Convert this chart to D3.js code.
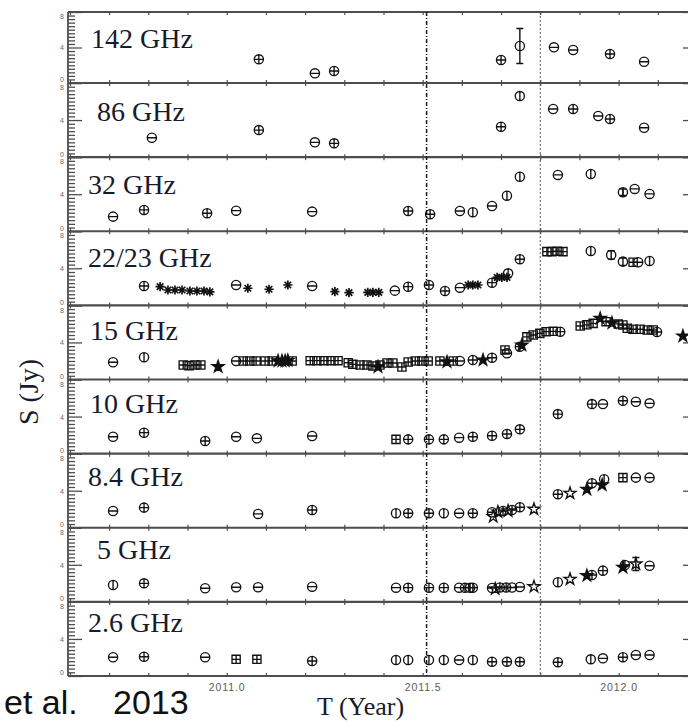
<!DOCTYPE html>
<html>
<head>
<meta charset="utf-8">
<script src="https://cdn.jsdelivr.net/npm/d3@7"></script>
<style>
  html, body { margin: 0; padding: 0; background: #fff; overflow: hidden; }
  svg { display: block; }
</style>
</head>
<body>
<svg id="chart" width="688" height="722"></svg>
<script>
// ---- Data: flux density S (Jy) against epoch T (year), one list per frequency ----
// Each point: [year, flux, marker, error]
//   marker: 'o' circle+cross, 'm' circle+bar, 'v' circle+stem, 'c' plain circle,
//           's' boxed cross, 'p' open star, 'P' filled star, 'x' asterisk
const bands = ["142 GHz", "86 GHz", "32 GHz", "22/23 GHz", "15 GHz", "10 GHz", "8.4 GHz", "5 GHz", "2.6 GHz"];

const f142 = [
  [2011.082, 2.67, 'o'], [2011.225, 1.09, 'm'], [2011.274, 1.35, 'o'],
  [2011.700, 2.59, 'o'], [2011.748, 4.17, 'c', 1.97], [2011.835, 4.02, 'm'],
  [2011.884, 3.72, 'm'], [2011.978, 3.27, 'o'], [2012.065, 2.40, 'm']
];

const f86 = [
  [2010.809, 2.09, 'm'], [2011.082, 2.92, 'o'], [2011.225, 1.60, 'm'], [2011.274, 1.49, 'o'],
  [2011.700, 3.28, 'o'], [2011.748, 6.59, 'v'], [2011.833, 5.19, 'm'], [2011.884, 5.19, 'o'],
  [2011.948, 4.44, 'm'], [2011.978, 4.11, 'o'], [2012.065, 3.17, 'm']
];

const f32 = [
  [2010.710, 1.58, 'm'], [2010.789, 2.30, 'o'], [2010.950, 1.94, 'o'], [2011.024, 2.22, 'm'],
  [2011.218, 2.12, 'm'], [2011.463, 2.19, 'o'], [2011.519, 1.83, 'o'], [2011.595, 2.19, 'm'],
  [2011.628, 2.05, 'v'], [2011.677, 2.73, 'm'], [2011.715, 3.84, 'v'], [2011.748, 5.89, 'v'],
  [2011.845, 6.08, 'm'], [2011.929, 6.18, 'v'], [2012.011, 4.21, 'v', 0.35], [2012.041, 4.57, 'm'],
  [2012.079, 4.03, 'm']
];

const f22 = [
  [2010.789, 2.09, 'o'], [2010.830, 2.02, 'x'], [2010.850, 1.66, 'x'], [2010.868, 1.66, 'x'],
  [2010.886, 1.66, 'x'], [2010.906, 1.55, 'x'], [2010.924, 1.55, 'x'], [2010.942, 1.55, 'x'],
  [2010.957, 1.45, 'x'], [2011.024, 2.20, 'm'], [2011.054, 1.85, 'x'], [2011.108, 1.74, 'x'],
  [2011.156, 2.20, 'x'], [2011.218, 2.09, 'm'], [2011.276, 1.48, 'x'], [2011.312, 1.38, 'x'],
  [2011.360, 1.41, 'x'], [2011.373, 1.41, 'x'], [2011.388, 1.41, 'x'], [2011.429, 1.59, 'm'],
  [2011.463, 2.02, 'o'], [2011.516, 2.20, 'o'], [2011.557, 1.55, 'o'], [2011.595, 1.91, 'm'],
  [2011.616, 2.20, 'x'], [2011.628, 2.20, 'x'], [2011.641, 2.20, 'x'], [2011.677, 2.45, 'o'],
  [2011.690, 3.03, 'x'], [2011.702, 3.03, 'x'], [2011.715, 3.03, 'x'], [2011.718, 3.46, 'v'],
  [2011.748, 4.98, 'o'], [2011.817, 5.80, 's'], [2011.830, 5.80, 's'], [2011.843, 5.85, 's'],
  [2011.858, 5.80, 's'], [2011.929, 5.87, 'v'], [2011.981, 5.44, 'c', 0.45], [2012.011, 4.72, 'c', 0.40],
  [2012.037, 4.65, 's'], [2012.050, 4.65, 'm'], [2012.079, 4.79, 'v']
];

const f15 = [
  [2010.710, 1.86, 'm'], [2010.789, 2.40, 'v'],
  [2010.889, 1.56, 's'], [2010.904, 1.50, 's'], [2010.919, 1.56, 's'], [2010.934, 1.56, 's'],
  [2010.978, 1.38, 'P'],
  [2011.024, 2.00, 'm'], [2011.042, 2.00, 's'], [2011.059, 2.00, 's'], [2011.075, 2.00, 's'],
  [2011.098, 2.00, 's'], [2011.116, 2.00, 's'], [2011.131, 2.00, 'P'], [2011.141, 2.00, 'P'],
  [2011.149, 2.00, 'P'], [2011.156, 2.05, 'P'], [2011.167, 2.00, 's'],
  [2011.213, 2.03, 's'], [2011.230, 2.03, 's'], [2011.248, 2.03, 's'], [2011.266, 2.03, 's'],
  [2011.284, 2.03, 's'],
  [2011.310, 1.81, 's'], [2011.322, 1.64, 's'], [2011.340, 1.56, 's'], [2011.358, 1.56, 's'],
  [2011.373, 1.46, 's'], [2011.386, 1.35, 'P'], [2011.391, 1.56, 's'], [2011.409, 1.78, 's'],
  [2011.424, 1.78, 's'], [2011.447, 1.35, 's'], [2011.463, 1.89, 's'], [2011.481, 2.00, 's'],
  [2011.498, 2.00, 's'], [2011.514, 2.00, 's'],
  [2011.544, 2.00, 's'], [2011.562, 1.90, 'P'], [2011.578, 2.00, 's'], [2011.595, 2.00, 'm'],
  [2011.628, 2.10, 'o'], [2011.654, 2.10, 'P'], [2011.677, 2.35, 'o'],
  [2011.710, 3.18, 's'], [2011.715, 2.83, 'm'], [2011.748, 3.54, 'o'], [2011.753, 3.70, 'P'],
  [2011.766, 4.60, 's'], [2011.782, 4.80, 's'], [2011.799, 4.98, 's'], [2011.815, 5.16, 's'],
  [2011.833, 5.20, 's'], [2011.851, 5.16, 'o'],
  [2011.902, 5.77, 's'], [2011.919, 5.90, 's'], [2011.935, 6.06, 's'], [2011.953, 6.60, 'P'],
  [2011.968, 6.24, 's'], [2011.983, 6.10, 'P'], [2011.999, 6.00, 's'], [2012.011, 5.88, 's'],
  [2012.022, 5.53, 's'], [2012.037, 5.42, 's'], [2012.055, 5.42, 's'], [2012.073, 5.34, 's'],
  [2012.088, 5.34, 's'], [2012.098, 5.13, 'o'],
  [2012.164, 4.69, 'P']
];

const f10 = [
  [2010.710, 1.82, 'm'], [2010.789, 2.26, 'o'], [2010.945, 1.36, 'o'], [2011.024, 1.82, 'm'],
  [2011.077, 1.65, 'm'], [2011.218, 1.90, 'm'],
  [2011.432, 1.54, 's'], [2011.463, 1.54, 'o'], [2011.516, 1.54, 'o'], [2011.554, 1.54, 'o'],
  [2011.593, 1.72, 'm'], [2011.628, 1.82, 'o'], [2011.677, 1.93, 'o'], [2011.715, 2.12, 'o'],
  [2011.748, 2.62, 'o'], [2011.845, 4.27, 'o'], [2011.932, 5.35, 'o'], [2011.960, 5.35, 'm'],
  [2012.011, 5.71, 'o'], [2012.044, 5.60, 'm'], [2012.079, 5.43, 'm']
];

const f8 = [
  [2010.710, 1.81, 'm'], [2010.789, 2.17, 'o'], [2011.080, 1.49, 'm'], [2011.218, 1.92, 'o'],
  [2011.432, 1.56, 'v'], [2011.463, 1.56, 'o'], [2011.516, 1.56, 'o'], [2011.554, 1.56, 'v'],
  [2011.593, 1.56, 'm'], [2011.628, 1.56, 'o'],
  [2011.677, 1.67, 'm'], [2011.680, 1.20, 'p'], [2011.692, 1.70, 'p'], [2011.705, 1.81, 'o'],
  [2011.718, 1.81, 'p'], [2011.728, 1.92, 'o'], [2011.748, 2.21, 'o'], [2011.784, 2.00, 'p'],
  [2011.845, 3.62, 'o'], [2011.876, 3.72, 'p'], [2011.919, 4.15, 'P'], [2011.932, 4.80, 'o'],
  [2011.958, 4.62, 'P'], [2011.963, 5.23, 'v'], [2012.011, 5.41, 's'], [2012.044, 5.41, 'm'],
  [2012.079, 5.41, 'm']
];

const f5 = [
  [2010.710, 1.82, 'v'], [2010.789, 2.00, 'o'], [2010.945, 1.47, 'm'], [2011.024, 1.58, 'm'],
  [2011.080, 1.58, 'm'], [2011.218, 1.64, 'm'],
  [2011.432, 1.53, 'm'], [2011.463, 1.53, 'o'], [2011.516, 1.53, 'o'], [2011.554, 1.53, 'o'],
  [2011.593, 1.53, 'm'], [2011.608, 1.53, 'o'], [2011.621, 1.53, 'o'], [2011.628, 1.53, 'o'],
  [2011.677, 1.50, 'm'], [2011.685, 1.40, 'p'], [2011.697, 1.55, 'o'], [2011.713, 1.55, 'o'],
  [2011.728, 1.55, 'm'], [2011.748, 1.60, 'm'], [2011.784, 1.64, 'p'],
  [2011.845, 2.12, 'v'], [2011.876, 2.44, 'p'], [2011.919, 2.83, 'P'], [2011.932, 2.90, 'o'],
  [2011.960, 3.37, 'o'], [2012.011, 3.73, 'P'], [2012.016, 3.98, 'o'], [2012.044, 4.09, 'p', 0.7],
  [2012.079, 3.90, 'm']
];

const f2 = [
  [2010.710, 2.02, 'm'], [2010.789, 2.08, 'o'], [2010.945, 2.02, 'm'], [2011.024, 1.80, 's'],
  [2011.077, 1.80, 's'], [2011.218, 1.62, 'o'],
  [2011.432, 1.73, 'v'], [2011.463, 1.73, 'v'], [2011.516, 1.73, 'v'], [2011.554, 1.73, 'v'],
  [2011.593, 1.73, 'm'], [2011.628, 1.73, 'v'],
  [2011.677, 1.54, 'o'], [2011.715, 1.54, 'o'], [2011.748, 1.54, 'o'], [2011.845, 1.48, 'o'],
  [2011.929, 1.80, 'v'], [2011.960, 1.91, 'm'], [2012.011, 2.02, 'o'], [2012.044, 2.27, 'm'],
  [2012.079, 2.27, 'm']
];

const series = [f142, f86, f32, f22, f15, f10, f8, f5, f2];

// Axis ticks and labels
const yearDomain = [2010.595, 2012.2];
const yearTicks = [2010.6, 2010.7, 2010.8, 2010.9, 2011.0, 2011.1, 2011.2, 2011.3, 2011.4,
                   2011.5, 2011.6, 2011.7, 2011.8, 2011.9, 2012.0, 2012.1, 2012.2];
const yearLabels = [2011.0, 2011.5, 2012.0];
const fluxDomain = [0, 8];
const fluxMajor = [0, 4, 8];
const fluxMinor = [0.4, 0.8, 1.2, 1.6, 2.0, 2.4, 2.8, 3.2, 3.6, 4.4, 4.8, 5.2, 5.6, 6.0, 6.4, 6.8, 7.2, 7.6];
const epochLines = [2011.51, 2011.80];

// ---- Layout ----
const svg = d3.select("#chart");
const left = 68, right = 697;
const plotTop = 12, firstBottom = 83, plotBottom = 676;
const frameColor = "#4d4d4d";

const x = d3.scaleLinear().domain(yearDomain).range([left, right]);
const bottomOf = d3.scaleLinear().domain([0, bands.length - 1]).range([firstBottom, plotBottom]);
const panels = bands.map((name, i) => {
  const bottom = bottomOf(i);
  const top = i === 0 ? plotTop : bottomOf(i - 1);
  return { name, top, bottom, data: series[i], y: d3.scaleLinear().domain(fluxDomain).range([bottom, top]) };
});

svg.append("defs").append("clipPath").attr("id", "plot-clip")
  .append("rect").attr("x", left).attr("y", plotTop)
  .attr("width", right - left).attr("height", plotBottom - plotTop);

// ---- Axes for every panel ----
const axesG = svg.append("g").attr("class", "axes");
panels.forEach((p, i) => {
  const g = axesG.append("g");

  // minor flux ticks, left and right
  g.append("g").attr("transform", `translate(${left},0)`)
    .call(d3.axisLeft(p.y).tickValues(fluxMinor).tickSizeInner(-7).tickSizeOuter(0).tickFormat(""))
    .call(s => { s.select(".domain").remove(); s.selectAll("line").attr("stroke", frameColor).attr("stroke-width", 1.3); });
  g.append("g").attr("transform", `translate(${right},0)`)
    .call(d3.axisRight(p.y).tickValues(fluxMinor).tickSizeInner(-7).tickSizeOuter(0).tickFormat(""))
    .call(s => { s.select(".domain").remove(); s.selectAll("line").attr("stroke", frameColor).attr("stroke-width", 1.3); });

  // major flux ticks with labels
  g.append("g").attr("transform", `translate(${left},0)`)
    .call(d3.axisLeft(p.y).tickValues(fluxMajor).tickSizeInner(-14).tickSizeOuter(0).tickPadding(4).tickFormat(d3.format("d")))
    .call(s => {
      s.select(".domain").remove();
      s.selectAll("line").attr("stroke", frameColor).attr("stroke-width", 1.3);
      s.selectAll("text")
        .attr("font-family", "Liberation Sans, Arial, sans-serif")
        .attr("font-size", 7).attr("fill", "#666")
        .attr("dy", d => d === 8 ? "0.95em" : d === 0 ? "-0.15em" : "0.35em");
    });
  g.append("g").attr("transform", `translate(${right},0)`)
    .call(d3.axisRight(p.y).tickValues(fluxMajor).tickSizeInner(-14).tickSizeOuter(0).tickFormat(""))
    .call(s => { s.select(".domain").remove(); s.selectAll("line").attr("stroke", frameColor).attr("stroke-width", 1.3); });

  // year ticks along panel top (pointing down) and bottom (pointing up)
  g.append("g").attr("transform", `translate(0,${p.top})`)
    .call(d3.axisTop(x).tickValues(yearTicks).tickSizeInner(-3).tickSizeOuter(0).tickFormat(""))
    .call(s => { s.select(".domain").remove(); s.selectAll("line").attr("stroke", frameColor).attr("stroke-width", 1.2); });
  const isLast = i === panels.length - 1;
  g.append("g").attr("transform", `translate(0,${p.bottom})`)
    .call(d3.axisBottom(x).tickValues(yearTicks).tickSizeInner(-3).tickSizeOuter(0).tickPadding(8)
      .tickFormat(d => (isLast && yearLabels.some(v => Math.abs(v - d) < 1e-6)) ? d3.format(".1f")(d) : ""))
    .call(s => {
      s.select(".domain").remove();
      s.selectAll("line").attr("stroke", frameColor).attr("stroke-width", 1.2);
      s.selectAll("text")
        .attr("font-family", "Liberation Sans, Arial, sans-serif")
        .attr("font-size", 10.5).attr("letter-spacing", "0.9px").attr("fill", "#5a5a5a");
    });
});

// ---- Frame: side axis lines and panel separators ----
const frame = svg.append("g").attr("class", "frame");
frame.append("line").attr("x1", left).attr("x2", left).attr("y1", plotTop).attr("y2", plotBottom)
  .attr("stroke", frameColor).attr("stroke-width", 1.8);
frame.append("line").attr("x1", right).attr("x2", right).attr("y1", plotTop).attr("y2", plotBottom)
  .attr("stroke", frameColor).attr("stroke-width", 1.8);
frame.selectAll("line.sep").data([plotTop].concat(panels.map(p => p.bottom))).join("line")
  .attr("class", "sep")
  .attr("x1", left).attr("x2", right)
  .attr("y1", d => d).attr("y2", d => d)
  .attr("stroke", frameColor).attr("stroke-width", 2.2);

// ---- Epoch marker lines ----
const epochs = svg.append("g");
epochs.append("line")
  .attr("x1", x(epochLines[0])).attr("x2", x(epochLines[0]))
  .attr("y1", plotTop).attr("y2", plotBottom)
  .attr("stroke", "#1a1a1a").attr("stroke-width", 1.5).attr("stroke-dasharray", "4,2,1,2");
epochs.append("line")
  .attr("x1", x(epochLines[1])).attr("x2", x(epochLines[1]))
  .attr("y1", plotTop).attr("y2", plotBottom)
  .attr("stroke", "#555").attr("stroke-width", 1).attr("stroke-dasharray", "2,2");

// ---- Markers ----
const r = 4.6;
const circlePath = `M${-r},0A${r},${r} 0 1,0 ${r},0A${r},${r} 0 1,0 ${-r},0`;
const h = 4.1;
const starPath = d3.symbol(d3.symbolStar, 44)();
const markerPaths = {
  o: circlePath + `M${-r},0H${r}M0,${-r}V${r}`,
  m: circlePath + `M${-r},0H${r}`,
  v: circlePath + `M0,${-r}V${r}`,
  c: circlePath,
  s: `M${-h},${-h}H${h}V${h}H${-h}Z` + `M${-h},0H${h}M0,${-h}V${h}`,
  p: starPath,
  P: starPath,
  x: (() => {
    const a = 4.6, d = a * Math.SQRT1_2;
    return `M${-a},0H${a}M0,${-a}V${a}M${-d},${-d}L${d},${d}M${-d},${d}L${d},${-d}`;
  })()
};

const marks = svg.append("g").attr("clip-path", "url(#plot-clip)");
panels.forEach(p => {
  const g = marks.append("g");
  // error bars
  const withErr = p.data.filter(d => d[3]);
  g.selectAll("path.err").data(withErr).join("path")
    .attr("class", "err")
    .attr("d", d => {
      const cx = x(d[0]), y1 = p.y(d[1] + d[3]), y2 = p.y(d[1] - d[3]), w = 3.5;
      return `M${cx},${y1}V${y2}M${cx - w},${y1}H${cx + w}M${cx - w},${y2}H${cx + w}`;
    })
    .attr("fill", "none").attr("stroke", "#111").attr("stroke-width", 1.4);
  g.selectAll("path.pt").data(p.data).join("path")
    .attr("class", "pt")
    .attr("transform", d => `translate(${x(d[0])},${p.y(d[1])})`)
    .attr("d", d => markerPaths[d[2]])
    .attr("fill", d => d[2] === 'P' ? "#111" : "none")
    .attr("stroke", "#111")
    .attr("stroke-width", d => d[2] === 'x' ? 1.7 : 1.35);
});

// ---- Band labels ----
const labelIndent = [91, 97, 88, 88, 90, 90, 88, 97, 88];
const labelBase = d3.scaleLinear().domain([0, bands.length - 1]).range([48, 632]);
svg.append("g").selectAll("text").data(panels).join("text")
  .attr("x", (d, i) => labelIndent[i])
  .attr("y", (d, i) => labelBase(i))
  .attr("font-family", "Liberation Serif, Times New Roman, serif")
  .attr("font-size", 28)
  .attr("fill", "#181b2b")
  .text(d => d.name);

// ---- Axis titles ----
svg.append("text")
  .attr("transform", "translate(38,392) rotate(-90)")
  .attr("text-anchor", "middle")
  .attr("font-family", "Liberation Serif, Times New Roman, serif")
  .attr("font-size", 28)
  .attr("fill", "#181b2b")
  .text("S (Jy)");

svg.append("text")
  .attr("x", 317).attr("y", 715)
  .attr("font-family", "Liberation Serif, Times New Roman, serif")
  .attr("font-size", 26)
  .attr("fill", "#181b2b")
  .text("T (Year)");

// ---- Citation ----
const cite = svg.append("text")
  .attr("y", 714)
  .attr("font-family", "Liberation Sans, Arial, sans-serif")
  .attr("font-size", 34)
  .attr("fill", "#111");
cite.append("tspan").attr("x", 4).text("et al.");
cite.append("tspan").attr("x", 113).text("2013");
</script>
</body>
</html>
